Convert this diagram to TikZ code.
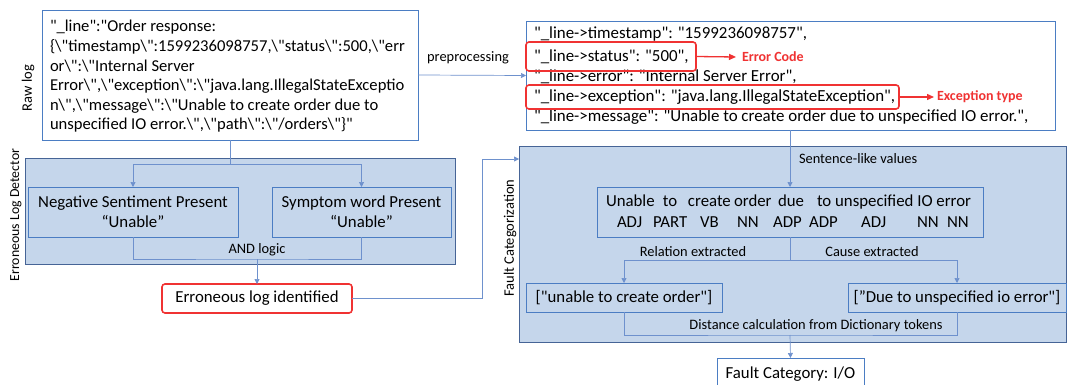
\documentclass[tikz,border=0pt]{standalone}
\usepackage{fontspec}
\setmainfont{Carlito}[Ligatures=TeXOff]
\usetikzlibrary{arrows.meta}
\definecolor{bfill}{RGB}{197,214,235}
\definecolor{bigb}{RGB}{70,100,150}
\definecolor{boxb}{RGB}{75,125,195}
\definecolor{linec}{RGB}{110,145,205}
\definecolor{redc}{RGB}{240,50,50}
\newcommand{\bs}{\textbackslash}
\begin{document}
\begin{tikzpicture}[x=1pt,y=-1pt,
  every node/.style={inner sep=0pt,outer sep=0pt},
  bigbox/.style={draw=bigb,fill=bfill,line width=0.9pt,anchor=north west},
  wbox/.style={draw=boxb,fill=white,line width=0.8pt,anchor=north west},
  ibox/.style={draw=boxb,fill=bfill,line width=0.8pt,anchor=north west},
  redbox/.style={draw=redc,line width=1.6pt,rounded corners=3pt,anchor=north west},
  conn/.style={draw=linec,line width=0.7pt},
  arr/.style={conn,-{Triangle[length=5pt,width=5pt]}},
  redarr/.style={draw=redc,line width=1.3pt,-{Triangle[length=7pt,width=6pt]}},
  rawtxt/.style={font=\fontsize{16.6}{19}\selectfont,anchor=west},
  txt/.style={font=\fontsize{16.9}{20}\selectfont,anchor=west},
  big/.style={font=\fontsize{16.8}{20}\selectfont},
  lab/.style={font=\fontsize{14.4}{16}\selectfont},
  side/.style={font=\fontsize{14.5}{17}\selectfont,rotate=90},
  redlab/.style={font=\fontsize{14}{16}\selectfont\bfseries,text=redc,anchor=west}]
\useasboundingbox (0,0) rectangle (1068,385);

% ---------- Raw log ----------
\node[wbox,minimum width=376,minimum height=130] (raw) at (42,10) {};
\node[rawtxt] (r1) at (50,27) {"\_line":"Order response:};
\node[rawtxt] (r2) at (50,47) {\{\bs"timestamp\bs":1599236098757,\bs"status\bs":500,\bs"err};
\node[rawtxt] (r3) at (50,66) {or\bs":\bs"Internal Server};
\node[rawtxt] (r4) at (50,86) {Error\bs",\bs"exception\bs":\bs"java.lang.IllegalStateExceptio};
\node[rawtxt] (r5) at (50,106) {n\bs",\bs"message\bs":\bs"Unable to create order due to};
\node[rawtxt] (r6) at (50,125) {unspecified IO error.\bs",\bs"path\bs":\bs"/orders\bs"\}"};
\node[side] (rawlab) at (28,88) {Raw log};

% ---------- Preprocessed ----------
\node[wbox,minimum width=529,minimum height=109] (pre) at (526,21) {};
\node[txt] (p1) at (534,34) {"\_line->timestamp": "1599236098757",};
\node[txt] (p2) at (534,57) {"\_line->status": "500",};
\node[txt] (p3) at (534,77) {"\_line->error": "Internal Server Error",};
\node[txt] (p4) at (534,97) {"\_line->exception": "java.lang.IllegalStateException",};
\node[txt] (p5) at (534,117) {"\_line->message": "Unable to create order due to unspecified IO error.",};
\node[redbox,minimum width=170,minimum height=29] (rs) at (526,42) {};
\node[redbox,minimum width=373,minimum height=24] (rex) at (526,85) {};
\node[redlab] (ec) at (742,57) {Error Code};
\node[redlab] (et) at (937,97) {Exception type};
\draw[redarr] (rs.east) -- ([xshift=-6pt]ec.west);
\draw[redarr] (rex.east) -- ([xshift=-3pt]et.west);

\draw[arr] (raw.east) -- (pre.west);
\node[lab] (preplab) at (468,58) {preprocessing};

% ---------- Erroneous Log Detector ----------
\node[bigbox,minimum width=430,minimum height=106] (det) at (25,158) {};
\node[side,font=\fontsize{13.8}{16}\selectfont] (detlab) at (16,215) {Erroneous Log Detector};
\node[ibox,minimum width=210,minimum height=50,big,align=center] (neg) at (28,187) {Negative Sentiment Present\\“Unable”};
\node[ibox,minimum width=179,minimum height=50,big,align=center] (sym) at (272,187) {Symptom word Present\\“Unable”};
\coordinate (split1) at (230,164);
\draw[arr] (raw.south) -- (split1) -| (neg.north);
\draw[arr] (split1) -| (sym.north);
\coordinate (and1) at (257,259);
\draw[conn] (neg.south) |- (and1) -| (sym.south);
\node[lab] (andlab) at (257,250) {AND logic};
\node[redbox,fill=white,minimum width=190,minimum height=29,big] (err) at (162,284) {Erroneous log identified};
\draw[arr] (and1) -- (err.north);

% ---------- Fault Categorization ----------
\node[bigbox,minimum width=547,minimum height=196] (fc) at (519,146) {};
\node[side] (fclab) at (510,238) {Fault Categorization};
\coordinate (bend) at (482,159);
\coordinate (fcin) at (519,159);
\draw[arr] (err.east) -| (bend) -- (fcin);

\node[ibox,minimum width=386,minimum height=50] (sent) at (597,187) {};
\node[big,anchor=west] (s1) at (606,202) {\makebox[57pt][l]{Unable}\makebox[25pt][l]{to}\makebox[46pt][l]{create}\makebox[44pt][l]{order}\makebox[39pt][l]{due}to unspecified IO error};
\node[big,anchor=west] (s2) at (617,222) {\makebox[36pt][l]{ADJ}\makebox[47pt][l]{PART}\makebox[37pt][l]{VB}\makebox[36pt][l]{NN}\makebox[36pt][l]{ADP}\makebox[52pt][l]{ADP}\makebox[56pt][l]{ADJ}\makebox[30pt][l]{NN}NN};
\draw[arr] (sent.north |- pre.south) -- (sent.north);
\node[lab,anchor=west] (slv) at (799,159) {Sentence-like values};

\node[ibox,minimum width=196,minimum height=29,big] (unb) at (526,283) {["unable to create order"]};
\node[ibox,minimum width=218,minimum height=29,big] (due) at (848,283) {[”Due to unspecified io error"]};
\coordinate (split2) at (790,260);
\draw[arr] (sent.south) -- (split2) -| (unb.north);
\draw[arr] (split2) -| (due.north);
\node[lab] (rel) at (693,252) {Relation extracted};
\node[lab] (cause) at (872,252) {Cause extracted};

\coordinate (join) at (790,335);
\draw[conn] (unb.south) |- (join) -| (due.south);
\node[lab] (dist) at (816,326) {Distance calculation from Dictionary tokens};

\node[wbox,minimum width=147,minimum height=32,big] (fcat) at (717,358) {Fault Category: I/O};
\draw[arr] (join) -- (fcat.north);
\end{tikzpicture}
\end{document}
